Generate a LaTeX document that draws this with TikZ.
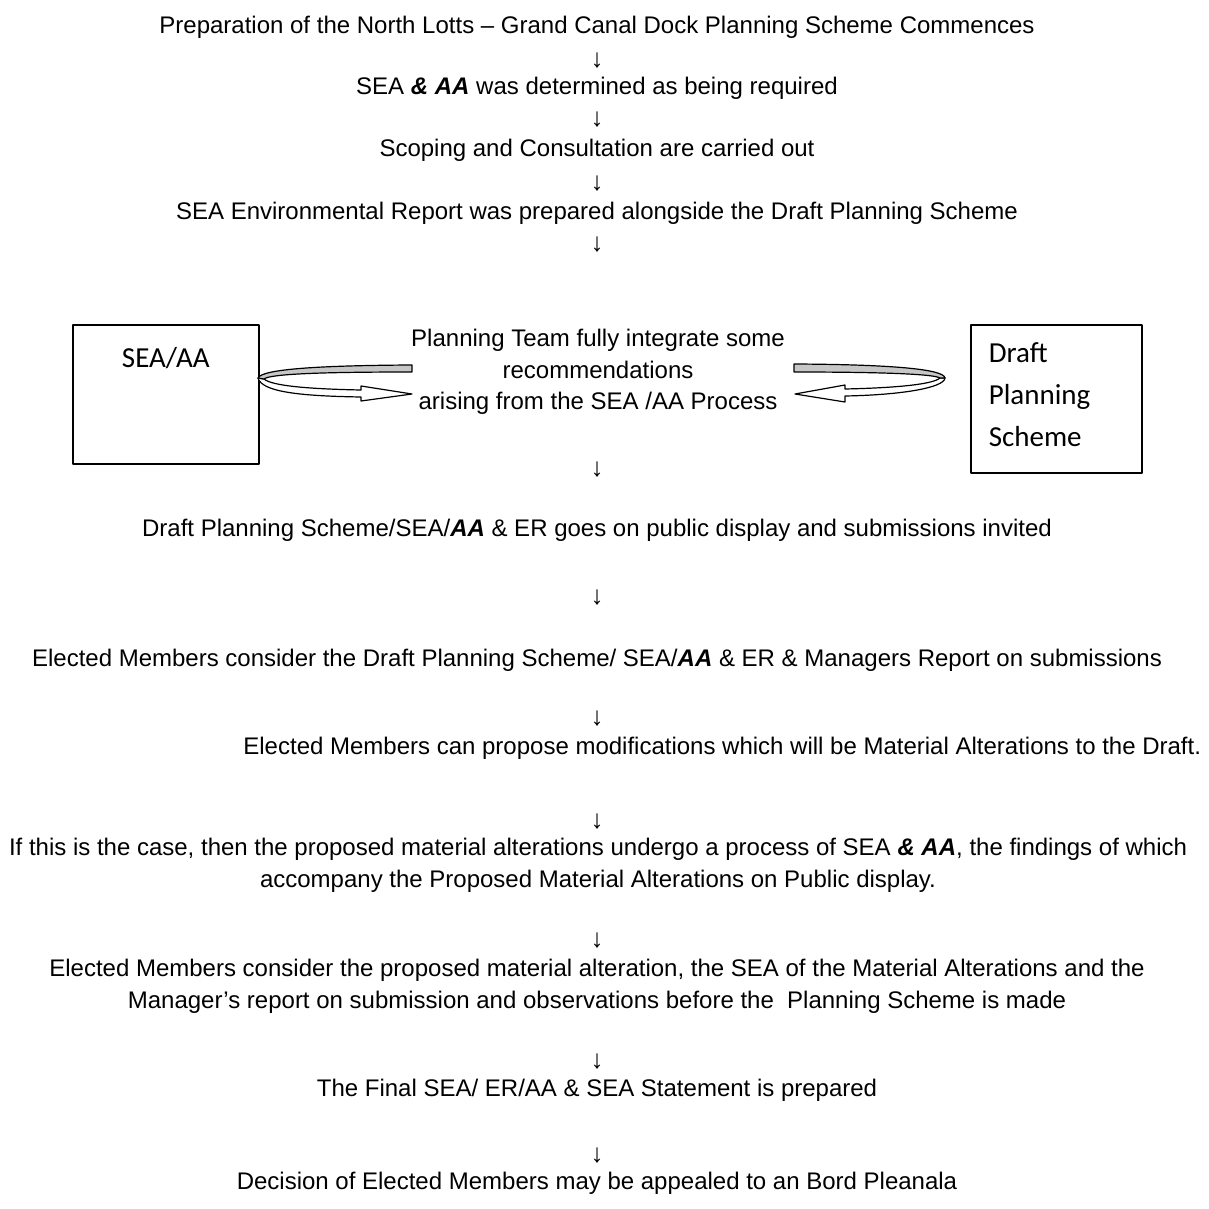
\documentclass[tikz,border=0pt]{standalone}
\usepackage{fontspec}
\setmainfont{Liberation Sans}
\newfontfamily\boxfont{Carlito}
\newfontfamily\arrowfont{Liberation Serif}
\usepackage{tikz}
\usetikzlibrary{positioning}
\newcommand{\bi}[1]{\textbf{\textit{#1}}}

\begin{document}
\begin{tikzpicture}[x=0.5pt, y=-0.5pt, line join=round,
text node/.style={font=\fontsize{12}{16}\selectfont, align=center, inner sep=0pt},
down node/.style={font=\arrowfont\fontsize{13}{15}\selectfont, inner sep=0pt},
box node/.style={draw, line width=0.8pt, font=\boxfont\fontsize{14.5}{21}\selectfont},
uturn/.style={draw, line width=0.6pt}]
\useasboundingbox (0,0) rectangle (1209,1209);
\begin{scope}[every node/.style={text node}]
\node (prep) at (597,27) {Preparation of the North Lotts -- Grand Canal Dock Planning Scheme Commences};
\node (sea) at (597,88) {SEA \bi{\& AA} was determined as being required};
\node (scoping) at (597,150) {Scoping and Consultation are carried out};
\node (report) at (597,213) {SEA Environmental Report was prepared alongside the Draft Planning Scheme};
\node[font=\fontsize{12}{15.75}\selectfont] (team) at (598,372) {Planning Team fully integrate some\\recommendations\\arising from the SEA /AA Process};
\node (display) at (597,530) {Draft Planning Scheme/SEA/\bi{AA} \& ER goes on public display and submissions invited};
\node (consider) at (597,660) {Elected Members consider the Draft Planning Scheme/ SEA/\bi{AA} \& ER \& Managers Report on submissions};
\node[anchor=west] (propose) at (243,748) {Elected Members can propose modifications which will be Material Alterations to the Draft.};
\node (alter) at (598,865) {If this is the case, then the proposed material alterations undergo a process of SEA \bi{\& AA}, the findings of which\\accompany the Proposed Material Alterations on Public display.};
\node (members) at (597,986) {Elected Members consider the proposed material alteration, the SEA of the Material Alterations and the\\Manager’s report on submission and observations before the\ \ Planning Scheme is made};
\node (final) at (597,1090) {The Final SEA/ ER/AA \& SEA Statement is prepared};
\node (appeal) at (597,1183) {Decision of Elected Members may be appealed to an Bord Pleanala};
\end{scope}
\begin{scope}[every node/.style={down node}]
\node (d1) at (597,61) {↓};
\node (d2) at (597,120) {↓};
\node (d3) at (597,184) {↓};
\node (d4) at (597,245) {↓};
\node (d5) at (597,470) {↓};
\node (d6) at (597,598) {↓};
\node (d7) at (597,719) {↓};
\node (d8) at (597,822) {↓};
\node (d9) at (597,941) {↓};
\node (d10) at (597,1062) {↓};
\node (d11) at (597,1156) {↓};
\end{scope}
\node[box node, anchor=north west, minimum width=93pt, inner xsep=0pt, inner ysep=0pt, text height=21.5pt, text depth=48pt, text width=93pt, align=center] (seabox) at (72,324) {SEA/AA};
\node[box node, anchor=north west, minimum width=85.5pt, minimum height=74pt, inner xsep=9pt, text width=67.5pt, align=left] (draftbox) at (970,324) {Draft\\Planning\\Scheme\vspace{4pt}};
% u-turn arrows
\filldraw[uturn, fill=white] (264,379) .. controls (272,386) and (310,389) .. (361,390) -- (361,386) -- (412,394) -- (361,401) -- (361,397) .. controls (300,396) and (262,392) .. (258,378) -- cycle;
\filldraw[uturn, fill=black!22] (412,365) -- (412,372) .. controls (320,372) and (270,374) .. (264,379) -- (258,378) .. controls (262,369) and (320,365.5) .. (412,365) -- cycle;
\filldraw[uturn, fill=white] (940,378) .. controls (932,385) and (890,388) .. (845,389) -- (845,385) -- (795,394) -- (845,402) -- (845,396) .. controls (900,395) and (944,388) .. (945,378) -- cycle;
\filldraw[uturn, fill=black!22] (794,364) -- (794,372) .. controls (880,372) and (934,374) .. (940,378) -- (945,378) .. controls (944,369) and (890,364.5) .. (794,364) -- cycle;
\end{tikzpicture}
\end{document}
